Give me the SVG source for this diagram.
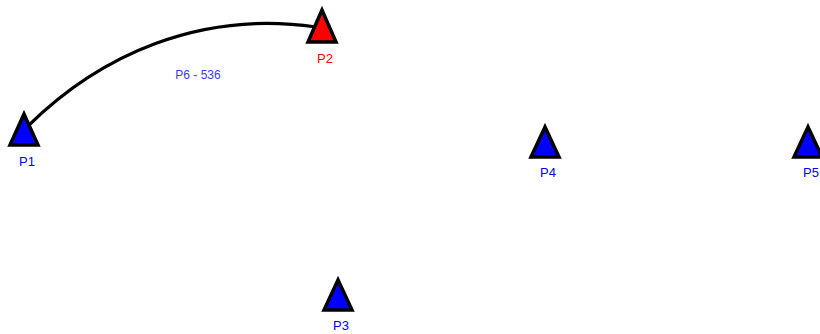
<svg xmlns="http://www.w3.org/2000/svg" width="820" height="334" viewBox="0 0 820 334">
  <style>
    .pt { stroke: #000; stroke-width: 3.5; stroke-linejoin: miter; }
    .blue { fill: #0000ff; }
    .red { fill: #ff0000; }
    .lbl { font-family: "Liberation Sans", Arial, sans-serif; font-size: 13px; text-anchor: middle; }
    .edge { fill: none; stroke: #000; stroke-width: 3.2; }
    .elbl { font-family: "Liberation Sans", Arial, sans-serif; font-size: 12px; fill: #3a3aff; text-anchor: middle; }
  </style>
  <rect width="820" height="334" fill="#fff"/>
  <g id="connectors">
    <path class="edge" d="M 28 126 C 100 55, 200 10, 316 27"/>
    <text class="elbl" x="198" y="79">P6 - 536</text>
  </g>
  <g id="P1">
    <polygon class="pt blue" points="24,114 10,145 38,145"/>
    <text class="lbl" x="27" y="166" fill="#0000ff">P1</text>
  </g>
  <g id="P2">
    <polygon class="pt red" points="322,10 308,42 336,42"/>
    <text class="lbl" x="325" y="63" fill="#ff0000">P2</text>
  </g>
  <g id="P3">
    <polygon class="pt blue" points="338,280 324,310 352,310"/>
    <text class="lbl" x="341" y="330" fill="#0000ff">P3</text>
  </g>
  <g id="P4">
    <polygon class="pt blue" points="545,127 531,157 559,157"/>
    <text class="lbl" x="548" y="177" fill="#0000ff">P4</text>
  </g>
  <g id="P5">
    <polygon class="pt blue" points="808,127 794,157 822,157"/>
    <text class="lbl" x="811" y="177" fill="#0000ff">P5</text>
  </g>
</svg>
